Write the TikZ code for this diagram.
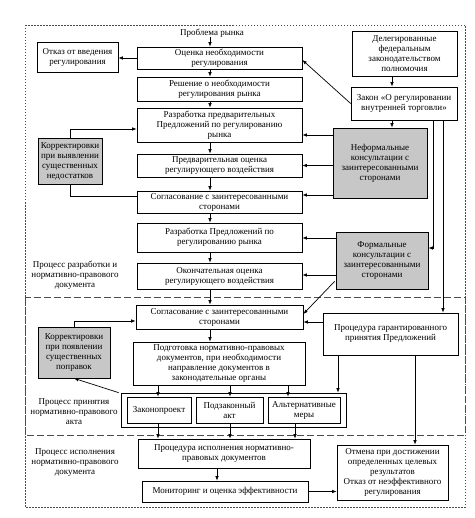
\documentclass[tikz,border=0pt]{standalone}
\usepackage{fontspec}
\setmainfont{Liberation Serif}
\usetikzlibrary{arrows.meta,calc}
\begin{document}
\begin{tikzpicture}[x=1pt,y=-1pt,
 box/.style={draw, line width=0.7pt, fill=white, align=center, inner sep=0pt, font=\fontsize{9}{10}\selectfont},
 gbox/.style={box, fill=black!22},
 lbl/.style={align=center, inner sep=0pt, font=\fontsize{9}{10}\selectfont},
 arr/.style={line width=0.7pt, -{Latex[length=4.5pt,width=3.5pt]}},
 ln/.style={line width=0.7pt},
 dotframe/.style={line width=0.7pt, black!70, dash pattern=on 1.5pt off 1.5pt},
 dashframe/.style={line width=0.7pt, black!70, dash pattern=on 7pt off 3pt}]
\useasboundingbox (0,0) rectangle (474,518);
% frames
\draw[dotframe] (25,25) rectangle (465,507);
\draw[dashframe] (25,297) rectangle (465,435);

% central column
\node[lbl] (problem) at (212,33) {Проблема рынка};
\node[box, minimum width=165, minimum height=22] (ocenka) at (219.5,58) {Оценка необходимости\\регулирования};
\node[box, minimum width=165, minimum height=24] (reshenie) at (219.5,89) {Решение о необходимости\\регулирования рынка};
\node[box, minimum width=165, minimum height=34] (razrab1) at (219.5,125) {Разработка предварительных\\Предложений по регулированию\\рынка};
\node[box, minimum width=165, minimum height=23] (predv) at (219.5,165.5) {Предварительная оценка\\регулирующего воздействия};
\node[box, minimum width=165, minimum height=22] (sogl1) at (219.5,202) {Согласование с заинтересованными\\сторонами};
\node[box, minimum width=165, minimum height=29] (razrab2) at (219.5,237.5) {Разработка Предложений по\\регулированию рынка};
\node[box, minimum width=165, minimum height=26] (okonch) at (219.5,276) {Окончательная оценка\\регулирующего воздействия};
\node[box, minimum width=167, minimum height=24] (sogl2) at (219.5,317) {Согласование с заинтересованными\\сторонами};
\node[box, minimum width=172, minimum height=43] (podgot) at (219,363.5) {Подготовка нормативно-правовых\\документов, при необходимости\\направление документов в\\законодательные органы};
\node[draw, line width=0.7pt, minimum width=225, minimum height=34, inner sep=0pt] (grp) at (233.5,410) {};
\node[box, minimum width=64, minimum height=26] (zakonpr) at (159,410) {Законопроект};
\node[box, minimum width=67, minimum height=26] (podzak) at (229.5,410) {Подзаконный\\акт};
\node[box, minimum width=72, minimum height=26] (altern) at (304,410) {Альтернативные\\меры};
\node[box, minimum width=172, minimum height=29] (procisp) at (224,453.5) {Процедура исполнения нормативно-\\правовых документов};
\node[box, minimum width=166, minimum height=21] (monitor) at (225,491.5) {Мониторинг и оценка эффективности};

% left column
\node[box, minimum width=81, minimum height=30] (otkaz) at (77.5,57) {Отказ от введения\\регулирования};
\node[gbox, minimum width=64, minimum height=46] (korr1) at (70,161) {Корректировки\\при выявлении\\существенных\\недостатков};
\node[gbox, minimum width=72, minimum height=51] (korr2) at (74,352.5) {Корректировки\\при появлении\\существенных\\поправок};
\node[lbl] (proc1) at (75,275) {Процесс разработки и\\нормативно-правового\\документа};
\node[lbl] (proc2) at (74,412) {Процесс принятия\\нормативно-правового\\акта};
\node[lbl] (proc3) at (75,463) {Процесс исполнения\\нормативно-правового\\документа};

% right column
\node[box, minimum width=105, minimum height=45] (deleg) at (404.5,53.5) {Делегированные\\федеральным\\законодательством\\полномочия};
\node[box, minimum width=106, minimum height=33] (zakon) at (404,103.5) {Закон «О регулировании\\внутренней торговли»};
\node[gbox, minimum width=94, minimum height=70] (neform) at (380,163) {Неформальные\\консультации с\\заинтересованными\\сторонами};
\node[gbox, minimum width=92, minimum height=57] (form) at (382,260.5) {Формальные\\консультации с\\заинтересованными\\сторонами};
\node[box, minimum width=135, minimum height=42] (garant) at (390.5,334) {Процедура гарантированного\\принятия Предложений};
\node[box, minimum width=111, minimum height=55] (otmena) at (392.5,472.5) {Отмена при достижении\\определенных целевых\\результатов\\Отказ от неэффективного\\регулирования};

% helper x-positions
\coordinate (ax) at (210,0);
\coordinate (a1) at (158,0);
\coordinate (a2) at (230,0);
\coordinate (a3) at (288,0);
\coordinate (b3) at (295,0);
\coordinate (ac) at (217,0);
\coordinate (rz) at (392,0);
\coordinate (r1) at (433,0);
\coordinate (r2) at (443,0);
\coordinate (g1) at (338,0);
\coordinate (g2) at (415,0);

% vertical chain
\draw[arr] (problem.south -| ax) -- (ocenka.north -| ax);
\draw[arr] (ocenka.south -| ax) -- (reshenie.north -| ax);
\draw[arr] (reshenie.south -| ax) -- (razrab1.north -| ax);
\draw[arr] (razrab1.south -| ax) -- (predv.north -| ax);
\draw[arr] (predv.south -| ax) -- (sogl1.north -| ax);
\draw[arr] (sogl1.south -| ax) -- (razrab2.north -| ax);
\draw[arr] (razrab2.south -| ax) -- (okonch.north -| ax);
\draw[arr] (okonch.south -| ax) -- (sogl2.north -| ax);
\draw[arr] (sogl2.south -| ax) -- (podgot.north -| ax);
\draw[arr] (podgot.south -| a1) -- (zakonpr.north -| a1);
\draw[arr] (podgot.south -| a2) -- (podzak.north -| a2);
\draw[arr] (podgot.south -| a3) -- (altern.north -| a3);
\draw[arr] (zakonpr.south -| a1) -- (procisp.north -| a1);
\draw[arr] (podzak.south -| a2) -- (procisp.north -| a2);
\draw[arr] (altern.south -| b3) -- (procisp.north -| b3);
\draw[arr] (procisp.south -| ac) -- (monitor.north -| ac);
\draw[arr] (monitor.east) -- (monitor.east -| otmena.west);

% left links
\draw[arr] (ocenka.west) -- (otkaz.east |- ocenka.west);
\draw[ln] ($(sogl1.west)+(0,-6)$) -| (korr1.south);
\draw[arr] (korr1.north) |- ($(razrab1.west)+(0,4)$);
\draw[arr] (korr2.north) |- ($(sogl2.west)+(0,4)$);
\draw[arr] ($(grp.north west)+(-2,0)$) -- (korr2.south);

% right links
\draw[arr] (deleg.south -| rz) -- (zakon.north -| rz);
\draw[arr] (zakon.west) -- ($(ocenka.east)+(0,2)$);
\draw[arr] (zakon.south -| rz) -- (neform.north -| rz);
\draw[arr] (zakon.south -| r1) |- ($(form.east)+(0,-12.5)$);
\draw[arr] (zakon.south -| r2) -- (garant.north -| r2);
\draw[arr] (neform.west |- razrab1.east) ++(0,10) -- ($(razrab1.east)+(0,10)$);
\draw[arr] (neform.west |- predv.east) -- (predv.east);
\draw[arr] ($(neform.west |- sogl1.east)+(0,-7)$) -- ($(sogl1.east)+(0,-7)$);
\draw[arr] ($(form.west |- razrab2.east)+(0,0.5)$) -- ($(razrab2.east)+(0,0.5)$);
\draw[arr] ($(form.west |- okonch.east)+(0,-1)$) -- ($(okonch.east)+(0,-1)$);
\draw[arr] ($(form.south west)+(-1,-8)$) -- ($(sogl2.east)+(0,-3)$);
\draw[arr] ($(garant.west)+(0,-12)$) -- ($(sogl2.east)+(0,5)$);
\draw[arr] (garant.south -| g1) -- (grp.north -| g1);
\draw[arr] (garant.south -| g2) -- (otmena.north -| g2);
\end{tikzpicture}
\end{document}
